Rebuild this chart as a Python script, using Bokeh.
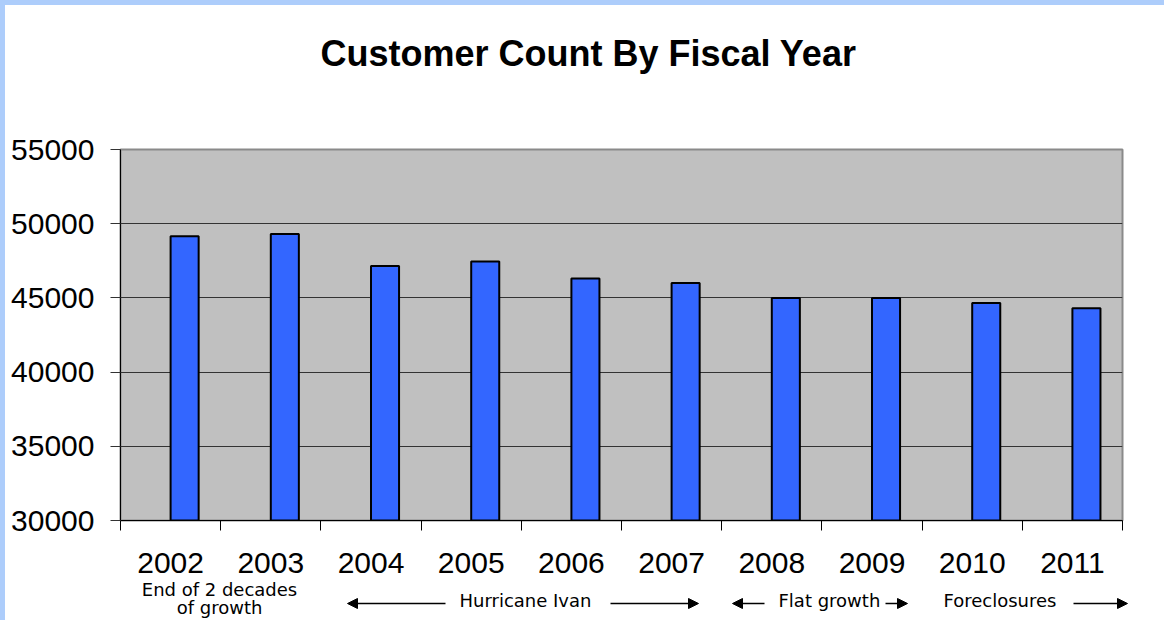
from bokeh.plotting import figure
from bokeh.layouts import column, row
from bokeh.models import Range1d, FixedTicker, Label, Arrow, NormalHead, Spacer
from bokeh.embed import file_html
from bokeh.resources import INLINE

# ---------------- data ----------------
years = ["2002", "2003", "2004", "2005", "2006", "2007", "2008", "2009", "2010", "2011"]
customers = [49150, 49300, 47150, 47450, 46300, 46000, 45000, 45000, 44650, 44300]
y_ticks = [30000, 35000, 40000, 45000, 50000, 55000]
title_text = "Customer Count By Fiscal Year"
note_texts = ["End of 2 decades", "of growth", "Hurricane Ivan", "Flat growth", "Foreclosures"]

Y_MIN, Y_MAX = 30000, 55000

# ---------------- layout (page pixels) ----------------
PAGE_W, PAGE_H = 1164, 620
STRIP = 5                      # light-blue frame strip at top / left
STRIP_COLOR = "#adcdfb"
FRAME_L, FRAME_R, FRAME_T, FRAME_B = 120, 1122, 149, 520
Y1, Y2, Q_TOP = 100, 536, 579  # title panel | chart panel | notes panel
CW = PAGE_W - STRIP


def px_x(px):
    """page pixel -> category coordinate (category centres at 0..n-1)"""
    return -0.5 + (px - FRAME_L) * len(years) / (FRAME_R - FRAME_L)


FONT = "Liberation Sans"

# ---------------- title panel ----------------
t = figure(width=CW, height=Y1 - STRIP, output_backend="svg", toolbar_location=None,
           x_range=Range1d(STRIP, PAGE_W), y_range=Range1d(Y1, STRIP),
           x_axis_location=None, y_axis_location=None, frame_align=False,
           min_border=0, outline_line_color=None,
           background_fill_color="white", border_fill_color="white")
t.grid.grid_line_color = None
t.add_layout(Label(x=588, y=53, text=title_text, text_font=FONT, text_font_style="bold",
                   text_font_size="36px", text_align="center", text_baseline="alphabetic",
                   text_color="black"))

# ---------------- main chart ----------------
p = figure(width=CW, height=Y2 - Y1, output_backend="svg", toolbar_location=None,
           x_range=Range1d(-0.5, len(years) - 0.5), y_range=Range1d(Y_MIN, Y_MAX),
           min_border_left=FRAME_L - STRIP, min_border_right=PAGE_W - FRAME_R,
           min_border_top=FRAME_T - Y1, min_border_bottom=Y2 - FRAME_B,
           frame_align=False,
           background_fill_color="#c0c0c0", border_fill_color="white",
           outline_line_color="#8a8a8a", outline_line_width=2)

bar_w = 0.28
xs = [i + bar_w / 2 for i in range(len(years))]
p.vbar(x=xs, top=customers, bottom=Y_MIN, width=bar_w,
       fill_color="#3366ff", line_color="black", line_width=2)

xa = p.xaxis[0]
xa.ticker = FixedTicker(ticks=list(range(len(years))),
                        minor_ticks=[i - 0.5 for i in range(len(years) + 1)])
xa.major_label_overrides = {i: "" for i in range(len(years))}
xa.major_label_text_font_size = "1px"
xa.major_label_standoff = 0
xa.major_tick_line_color = None
xa.major_tick_out = 10
xa.major_tick_in = 0
xa.minor_tick_line_color = "black"
xa.minor_tick_out = 10
xa.minor_tick_in = 0
xa.axis_line_color = "black"

ya = p.yaxis[0]
ya.ticker = FixedTicker(ticks=y_ticks)
ya.major_tick_out = 10
ya.major_tick_in = 0
ya.minor_tick_line_color = None
ya.major_tick_line_color = "#333333"
ya.axis_line_color = "black"
ya.major_label_text_font = FONT
ya.major_label_text_font_size = "30px"
ya.major_label_text_color = "black"
ya.major_label_standoff = 16

p.xgrid.grid_line_color = None
p.ygrid.ticker = FixedTicker(ticks=y_ticks[1:-1])
p.ygrid.grid_line_color = "#333333"
p.ygrid.grid_line_width = 1

# ---------------- year labels + period notes ----------------
q = figure(width=CW, height=PAGE_H - Y2, output_backend="svg", toolbar_location=None,
           x_range=Range1d(px_x(STRIP), px_x(PAGE_W)), y_range=Range1d(PAGE_H, Q_TOP),
           x_axis_location="above", y_axis_location=None, frame_align=False,
           min_border_left=0, min_border_right=0, min_border_bottom=0,
           min_border_top=Q_TOP - Y2, outline_line_color=None,
           background_fill_color="white", border_fill_color="white")
q.grid.grid_line_color = None
qa = q.xaxis[0]
qa.ticker = FixedTicker(ticks=list(range(len(years))))
qa.major_label_overrides = {i: y for i, y in enumerate(years)}
qa.axis_line_color = None
qa.major_tick_line_color = None
qa.minor_tick_line_color = None
qa.major_tick_out = 0
qa.major_tick_in = 0
qa.major_label_standoff = 7
qa.major_label_text_font = FONT
qa.major_label_text_font_size = "30px"
qa.major_label_text_color = "black"

note_font = dict(text_font="DejaVu Sans", text_font_size="18px",
                 text_color="black", text_baseline="alphabetic")
q.add_layout(Label(x=px_x(219), y=589, text=note_texts[0], text_align="center", **note_font))
q.add_layout(Label(x=px_x(219), y=607, text=note_texts[1], text_align="center", **note_font))
q.add_layout(Label(x=px_x(459), y=600, text=note_texts[2], text_align="left", **note_font))
q.add_layout(Label(x=px_x(778), y=600, text=note_texts[3], text_align="left", **note_font))
q.add_layout(Label(x=px_x(943), y=600, text=note_texts[4], text_align="left", **note_font))

arrows = [(445, 347), (610, 698), (764, 732), (885, 907), (1073, 1127)]
for xs_px, xe_px in arrows:
    q.add_layout(Arrow(x_start=px_x(xs_px), y_start=603, x_end=px_x(xe_px), y_end=603,
                       line_color="black", line_width=1.5,
                       end=NormalHead(size=10, fill_color="black", line_color="black")))

# ---------------- page ----------------
top_strip = Spacer(width=PAGE_W, height=STRIP, styles={"background-color": STRIP_COLOR})
left_strip = Spacer(width=STRIP, height=PAGE_H - STRIP, styles={"background-color": STRIP_COLOR})
layout = column(top_strip, row(left_strip, column(t, p, q, spacing=0), spacing=0), spacing=0)

open("out.html", "w").write(file_html(layout, INLINE))
